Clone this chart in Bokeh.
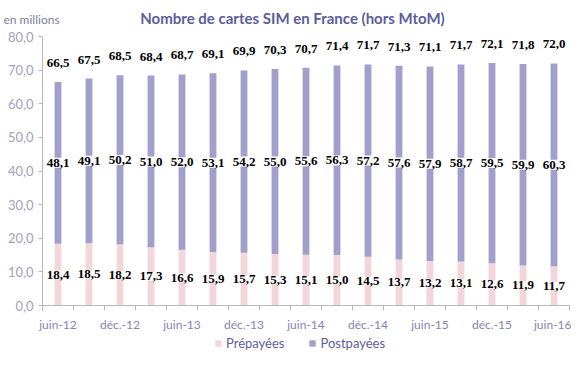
from bokeh.plotting import figure
from bokeh.models import ColumnDataSource, FixedTicker, Label, Legend, LegendItem, Range1d
from bokeh.core.properties import value
from bokeh.embed import file_html
from bokeh.resources import INLINE

months = ["juin-12", "sept.-12", "déc.-12", "mars-13", "juin-13", "sept.-13", "déc.-13",
          "mars-14", "juin-14", "sept.-14", "déc.-14", "mars-15", "juin-15", "sept.-15",
          "déc.-15", "mars-16", "juin-16"]
prepayees = [18.4, 18.5, 18.2, 17.3, 16.6, 15.9, 15.7, 15.3, 15.1, 15.0, 14.5, 13.7, 13.2,
             13.1, 12.6, 11.9, 11.7]
postpayees = [48.1, 49.1, 50.2, 51.0, 52.0, 53.1, 54.2, 55.0, 55.6, 56.3, 57.2, 57.6, 57.9,
              58.7, 59.5, 59.9, 60.3]
totaux = [66.5, 67.5, 68.5, 68.4, 68.7, 69.1, 69.9, 70.3, 70.7, 71.4, 71.7, 71.3, 71.1,
          71.7, 72.1, 71.8, 72.0]
y_ticks = [0, 10, 20, 30, 40, 50, 60, 70, 80]

PINK = "#f3d6da"
PURPLE = "#a19fcc"
TITLE_C = "#5d5d9d"

W, H = 571, 359
X0_PX, X1_PX = 42, 569
Y0_PX, Y80_PX = 305, 36

n = len(months)
sx = (X1_PX - X0_PX) / n
sy = (Y0_PX - Y80_PX) / 80.0
x_start = 0.5 - X0_PX / sx
x_end = n + 0.5 + (W - X1_PX) / sx
y_start = -(H - Y0_PX) / sy
y_end = 80 + Y80_PX / sy

def px_x(px):
    return x_start + px / sx

def px_y(py):
    return y_end - py / sy

def fr(v):
    return f"{v:.1f}".replace(".", ",")

BAR_W = 0.22
xs = list(range(1, n + 1))
src = ColumnDataSource(dict(
    x=xs,
    pre=prepayees,
    post=postpayees,
    tot=totaux,
    pre_mid=[a / 2 for a in prepayees],
    post_mid=[a + b / 2 for a, b in zip(prepayees, postpayees)],
    pre_lbl=[fr(v) for v in prepayees],
    post_lbl=[fr(v) for v in postpayees],
    tot_lbl=[fr(v) for v in totaux],
))

p = figure(width=W, height=H, output_backend="svg", toolbar_location=None,
           x_range=Range1d(x_start, x_end), y_range=Range1d(y_start, y_end),
           min_border=0)
p.outline_line_color = None
p.grid.visible = False

r_pre = p.vbar(x="x", bottom=0, top="pre", width=BAR_W, fill_color=PINK, line_color=None,
               source=src)
r_post = p.vbar(x="x", bottom="pre", top="tot", width=BAR_W, fill_color=PURPLE,
                line_color=None, source=src)

num_font = value("Liberation Serif")
common = dict(source=src, text_font=num_font, text_font_style="bold", text_font_size="13px",
              text_align="center", text_baseline="middle", text_color="black")
p.text(x="x", y="pre_mid", text="pre_lbl", background_fill_color="white", **common)
p.text(x="x", y="post_mid", text="post_lbl", background_fill_color="white", padding=1,
       **common)
p.text(x="x", y="tot", text="tot_lbl", y_offset=-19, **common)

xa = p.xaxis[0]
xa.fixed_location = 0
xa.bounds = (0.5, n + 0.5)
xa.ticker = FixedTicker(ticks=xs[::2], minor_ticks=[x - 0.5 for x in xs] + [n + 0.5])
xa.major_label_overrides = {x: m for x, m in zip(xs[::2], months[::2])}
xa.major_tick_out = 0
xa.major_tick_in = 0
xa.minor_tick_out = 5
xa.minor_tick_in = 0
xa.minor_tick_line_color = "#b8b8b8"
xa.axis_line_color = "#b8b8b8"
xa.major_label_text_font = "Lato"
xa.major_label_text_font_size = "12px"
xa.major_label_text_color = "#8484b4"
xa.major_label_standoff = 6

ya = p.yaxis[0]
ya.fixed_location = 0.5
ya.bounds = (0, 80)
ya.ticker = FixedTicker(ticks=y_ticks, minor_ticks=[])
ya.major_label_overrides = {t: fr(t) for t in y_ticks}
ya.major_tick_out = 4
ya.major_tick_in = 0
ya.major_tick_line_color = "#b8b8b8"
ya.axis_line_color = "#b8b8b8"
ya.major_label_text_font = "Lato"
ya.major_label_text_font_size = "13px"
ya.major_label_text_color = "#a2a2bc"
ya.major_label_standoff = 5

p.add_layout(Label(x=px_x(292), y=px_y(17), text="Nombre de cartes SIM en France (hors MtoM)",
                   text_font="Lato", text_font_style="bold", text_font_size="15px",
                   text_color=TITLE_C, text_align="center", text_baseline="middle"))
p.add_layout(Label(x=px_x(3), y=px_y(19), text="en millions", text_font="Lato",
                   text_font_size="12px", text_color="#7d7d9d", text_align="left",
                   text_baseline="middle"))

legend = Legend(items=[LegendItem(label="Prépayées", renderers=[r_pre]),
                       LegendItem(label="Postpayées", renderers=[r_post])],
                orientation="horizontal", location=(214, H - 351), border_line_color=None,
                background_fill_alpha=0, padding=0, margin=0, spacing=24,
                glyph_width=8, glyph_height=8, label_standoff=4, label_height=14,
                label_text_font="Lato", label_text_font_size="13px",
                label_text_color=TITLE_C)
p.add_layout(legend)

open("out.html", "w").write(file_html(p, INLINE))
